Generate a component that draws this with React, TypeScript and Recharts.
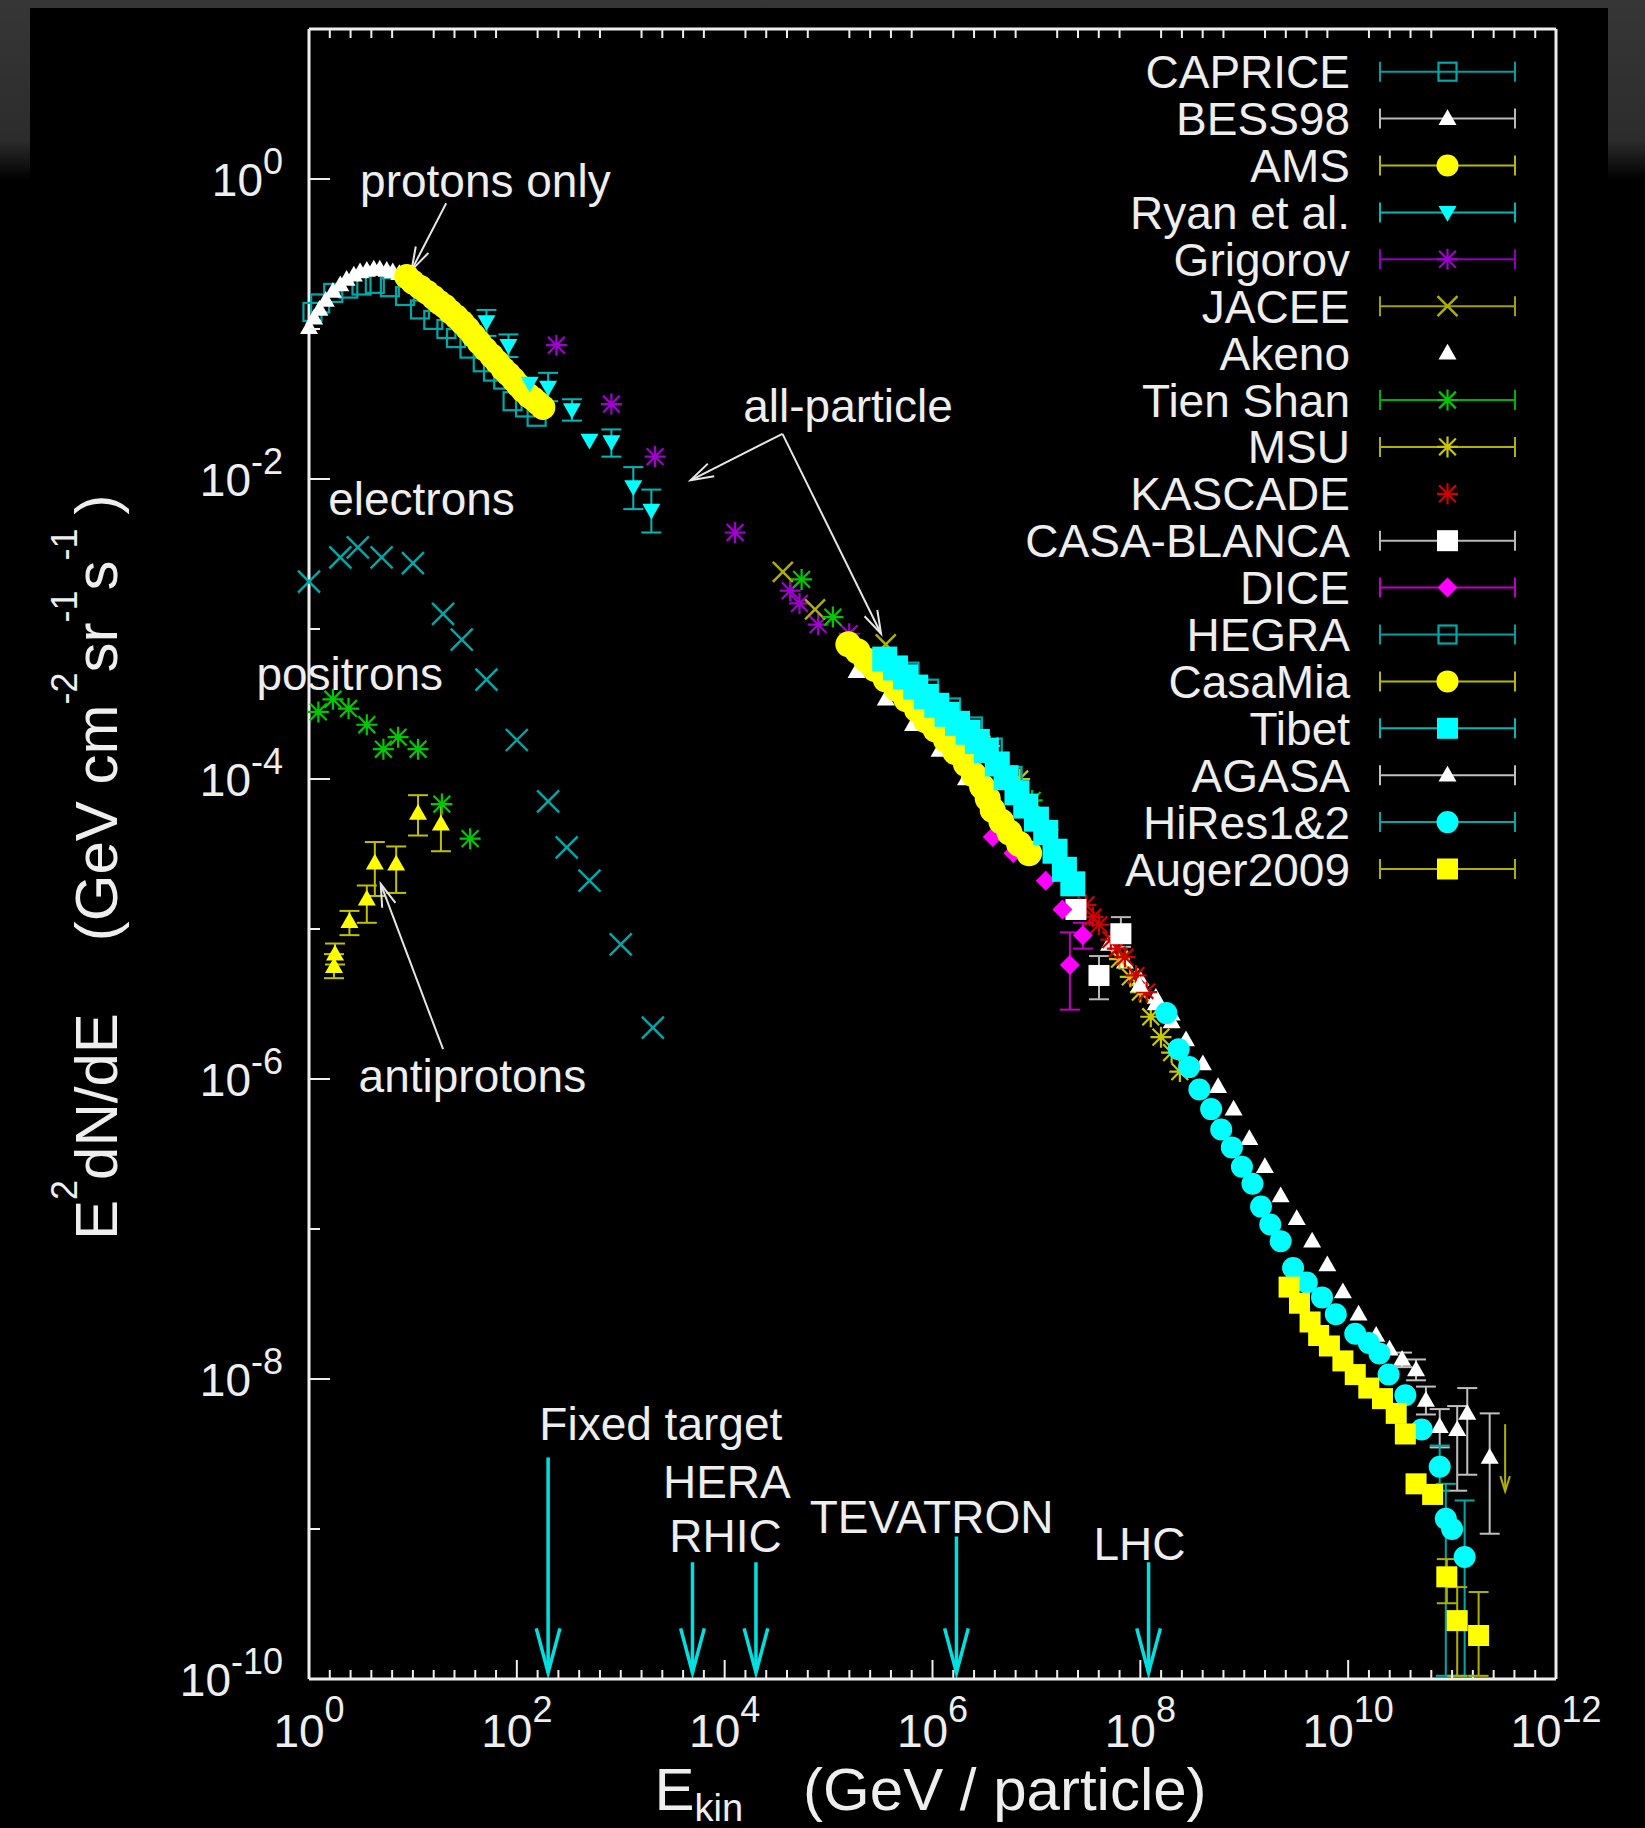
import { ScatterChart, Scatter, XAxis, YAxis, ErrorBar, ReferenceLine, ReferenceDot, Legend } from 'recharts';

const FONT = '"Liberation Sans", Arial, Helvetica, sans-serif';
const INK = '#eeeeee';

type Pt = { x: number; y: number; lo?: number; hi?: number };
type Kind = 'sqOpen' | 'sq' | 'circle' | 'triUp' | 'triDown' | 'star' | 'cross' | 'diamond';

// ---- measurements (E in GeV, E^2 dN/dE) ----
const capriceData: Pt[] = [
  { x: 1.08, y: 0.13 }, { x: 1.28, y: 0.148 }, { x: 1.71, y: 0.174 }, { x: 2.39, y: 0.186 }, { x: 3.2, y: 0.195 },
  { x: 4.3, y: 0.2 }, { x: 6.0, y: 0.19 }, { x: 8.4, y: 0.166 }, { x: 11.7, y: 0.135 }, { x: 15.7, y: 0.115 },
  { x: 21, y: 0.1 }, { x: 26, y: 0.087 }, { x: 35, y: 0.074 }, { x: 47, y: 0.06 }, { x: 59, y: 0.052 },
  { x: 74, y: 0.046 }, { x: 91, y: 0.033 }, { x: 120, y: 0.03 }, { x: 155, y: 0.026 },
];
const bess98Data: Pt[] = [
  { x: 1.0, y: 0.102 }, { x: 1.12, y: 0.118 }, { x: 1.26, y: 0.135 }, { x: 1.45, y: 0.155 }, { x: 1.7, y: 0.178 },
  { x: 2.0, y: 0.197 }, { x: 2.3, y: 0.214 }, { x: 2.7, y: 0.228 }, { x: 3.1, y: 0.24 }, { x: 3.6, y: 0.246 },
  { x: 4.2, y: 0.25 }, { x: 4.8, y: 0.25 }, { x: 5.6, y: 0.246 }, { x: 6.4, y: 0.24 }, { x: 7.4, y: 0.234 }, { x: 8.5, y: 0.226 },
];
const amsData: Pt[] = [
  { x: 8.7, y: 0.224 }, { x: 10, y: 0.205 }, { x: 11.7, y: 0.19 }, { x: 13.6, y: 0.176 }, { x: 15.8, y: 0.162 },
  { x: 18, y: 0.15 }, { x: 20.4, y: 0.141 }, { x: 23, y: 0.13 }, { x: 26.3, y: 0.12 }, { x: 30, y: 0.11 },
  { x: 33.9, y: 0.1 }, { x: 38.5, y: 0.09 }, { x: 43.7, y: 0.081 }, { x: 50, y: 0.073 }, { x: 57.5, y: 0.066 },
  { x: 65, y: 0.06 }, { x: 74, y: 0.054 }, { x: 83, y: 0.05 }, { x: 93, y: 0.046 }, { x: 104, y: 0.042 },
  { x: 115, y: 0.039 }, { x: 130, y: 0.036 }, { x: 145, y: 0.034 }, { x: 160, y: 0.032 }, { x: 178, y: 0.03 },
];
const ryanData: Pt[] = [
  { x: 51, y: 0.112, lo: 0.09, hi: 0.134 }, { x: 83, y: 0.078, lo: 0.065, hi: 0.092 }, { x: 133, y: 0.0436 },
  { x: 200, y: 0.041, lo: 0.033, hi: 0.051 }, { x: 339, y: 0.029, lo: 0.0245, hi: 0.034 }, { x: 500, y: 0.0182 },
  { x: 813, y: 0.0178, lo: 0.0141, hi: 0.0214 }, { x: 1320, y: 0.0089, lo: 0.0063, hi: 0.012 },
  { x: 1970, y: 0.0062, lo: 0.0044, hi: 0.0085 },
];
const grigorovData: Pt[] = [
  { x: 240, y: 0.078 }, { x: 813, y: 0.0316 }, { x: 2140, y: 0.0141 }, { x: 12600, y: 0.0044 },
  { x: 42700, y: 0.0018 }, { x: 52500, y: 0.00148 }, { x: 79400, y: 0.00107 }, { x: 158000, y: 0.00093 },
];
const jaceeData: Pt[] = [{ x: 36300, y: 0.0024 }, { x: 74100, y: 0.00135 }, { x: 355000, y: 0.00079 }];
const akenoData: Pt[] = [
  { x: 1.86e5, y: 5.2e-4 }, { x: 3.55e5, y: 3.4e-4 }, { x: 6.5e5, y: 2.3e-4 }, { x: 1.17e6, y: 1.55e-4 },
  { x: 2.1e6, y: 1.0e-4 }, { x: 3.55e6, y: 6.8e-5 }, { x: 5.0e7, y: 7.9e-6 }, { x: 7.1e7, y: 6.0e-6 },
  { x: 1.0e8, y: 4.6e-6 }, { x: 1.41e8, y: 3.5e-6 }, { x: 2.0e8, y: 2.7e-6 },
];
const tienShanData: Pt[] = [{ x: 55000, y: 0.00214 }, { x: 110000, y: 0.0012 }, { x: 9.1e6, y: 7.2e-5 }];
const msuData: Pt[] = [
  { x: 3.55e6, y: 1.66e-4 }, { x: 6.9e6, y: 1.0e-4 }, { x: 1.29e7, y: 4.6e-5 }, { x: 6.3e7, y: 6.3e-6 },
  { x: 8.0e7, y: 4.8e-6 }, { x: 1.0e8, y: 3.8e-6 }, { x: 1.26e8, y: 2.6e-6 }, { x: 1.58e8, y: 1.9e-6 },
  { x: 2.0e8, y: 1.5e-6 }, { x: 2.4e8, y: 1.12e-6 },
];
const kascadeData: Pt[] = [
  { x: 3.0e7, y: 1.45e-5 }, { x: 3.5e7, y: 1.2e-5 }, { x: 4.0e7, y: 1.07e-5 }, { x: 5.2e7, y: 8.5e-6 },
  { x: 6.0e7, y: 7.4e-6 }, { x: 7.1e7, y: 6.5e-6 }, { x: 9.1e7, y: 4.9e-6 }, { x: 1.15e8, y: 3.8e-6 },
];
const casaBlancaData: Pt[] = [
  { x: 2.4e7, y: 1.35e-5 }, { x: 4.0e7, y: 4.9e-6, lo: 3.4e-6, hi: 6.6e-6 }, { x: 6.5e7, y: 9.3e-6, lo: 7.6e-6, hi: 1.2e-5 },
];
const diceData: Pt[] = [
  { x: 3.8e6, y: 4.1e-5 }, { x: 6.0e6, y: 3.2e-5 }, { x: 1.23e7, y: 2.1e-5 }, { x: 1.78e7, y: 1.35e-5 },
  { x: 2.1e7, y: 5.75e-6, lo: 2.9e-6, hi: 9.5e-6 }, { x: 2.8e7, y: 9.1e-6, lo: 7.4e-6, hi: 1.1e-5 },
];
const hegraData: Pt[] = [
  { x: 6.0e5, y: 5.2e-4 }, { x: 9.3e5, y: 4.0e-4 }, { x: 1.51e6, y: 3.0e-4 }, { x: 2.45e6, y: 2.24e-4 },
  { x: 3.8e6, y: 1.62e-4 }, { x: 5.9e6, y: 1.05e-4 },
];
const casaMiaData: Pt[] = [
  { x: 1.55e5, y: 7.9e-4 }, { x: 1.9e5, y: 7.1e-4 }, { x: 2.3e5, y: 6.2e-4 }, { x: 2.8e5, y: 5.4e-4 },
  { x: 3.55e5, y: 4.6e-4 }, { x: 4.5e5, y: 4.0e-4 }, { x: 5.6e5, y: 3.4e-4 }, { x: 7.1e5, y: 2.9e-4 },
  { x: 8.7e5, y: 2.45e-4 }, { x: 1.07e6, y: 2.14e-4 }, { x: 1.35e6, y: 1.82e-4 }, { x: 1.66e6, y: 1.51e-4 },
  { x: 2.1e6, y: 1.26e-4 }, { x: 2.5e6, y: 1.07e-4 }, { x: 3.0e6, y: 8.9e-5 }, { x: 3.4e6, y: 7.4e-5 },
  { x: 3.8e6, y: 6.2e-5 }, { x: 4.6e6, y: 5.2e-5 }, { x: 5.5e6, y: 4.4e-5 }, { x: 6.8e6, y: 3.7e-5 }, { x: 8.5e6, y: 3.2e-5 },
];
const tibetData: Pt[] = [
  { x: 3.47e5, y: 6.3e-4 }, { x: 4.4e5, y: 5.5e-4 }, { x: 5.5e5, y: 4.8e-4 }, { x: 6.9e5, y: 4.1e-4 },
  { x: 8.7e5, y: 3.55e-4 }, { x: 1.1e6, y: 3.1e-4 }, { x: 1.38e6, y: 2.7e-4 }, { x: 1.74e6, y: 2.35e-4 },
  { x: 2.2e6, y: 2.05e-4 }, { x: 2.7e6, y: 1.78e-4 }, { x: 3.3e6, y: 1.55e-4 }, { x: 4.2e6, y: 1.26e-4 },
  { x: 5.1e6, y: 1.02e-4 }, { x: 6.5e6, y: 8.1e-5 }, { x: 7.9e6, y: 6.6e-5 }, { x: 1.0e7, y: 5.4e-5 },
  { x: 1.23e7, y: 4.4e-5 }, { x: 1.51e7, y: 3.3e-5 }, { x: 1.86e7, y: 2.5e-5 }, { x: 2.24e7, y: 2.0e-5 },
];
const agasaData: Pt[] = [
  { x: 9.8e7, y: 4.2e-6 }, { x: 1.41e8, y: 3.16e-6 }, { x: 2.0e8, y: 2.4e-6 }, { x: 2.75e8, y: 1.82e-6 },
  { x: 4.0e8, y: 1.26e-6 }, { x: 5.6e8, y: 8.9e-7 }, { x: 7.9e8, y: 6.3e-7 }, { x: 1.12e9, y: 4.0e-7 },
  { x: 1.58e9, y: 2.6e-7 }, { x: 2.24e9, y: 1.66e-7 }, { x: 3.2e9, y: 1.17e-7 }, { x: 4.5e9, y: 8.3e-8 },
  { x: 6.3e9, y: 5.75e-8 }, { x: 8.9e9, y: 3.8e-8 }, { x: 1.26e10, y: 2.7e-8 }, { x: 1.86e10, y: 1.95e-8 },
  { x: 2.5e10, y: 1.58e-8 }, { x: 3.3e10, y: 1.35e-8, lo: 1.2e-8, hi: 1.5e-8 },
  { x: 4.5e10, y: 1.15e-8, lo: 9.8e-9, hi: 1.35e-8 }, { x: 5.6e10, y: 7.2e-9, lo: 5.8e-9, hi: 8.9e-9 },
  { x: 7.6e10, y: 4.8e-9, lo: 3.5e-9, hi: 6.3e-9 }, { x: 1.12e11, y: 4.6e-9, lo: 1.8e-9, hi: 6.6e-9 },
  { x: 1.4e11, y: 5.9e-9, lo: 2.3e-9, hi: 8.7e-9 }, { x: 2.3e11, y: 3.0e-9, lo: 9.3e-10, hi: 5.9e-9 },
];
const hiresData: Pt[] = [
  { x: 1.78e8, y: 2.75e-6 }, { x: 2.34e8, y: 1.58e-6 }, { x: 2.95e8, y: 1.2e-6 }, { x: 3.7e8, y: 8.5e-7 },
  { x: 4.8e8, y: 6.3e-7 }, { x: 6.0e8, y: 4.6e-7 }, { x: 7.6e8, y: 3.5e-7 }, { x: 9.5e8, y: 2.6e-7 },
  { x: 1.2e9, y: 2.0e-7 }, { x: 1.45e9, y: 1.41e-7 }, { x: 1.78e9, y: 1.07e-7 }, { x: 2.24e9, y: 8.3e-8 },
  { x: 2.95e9, y: 5.5e-8 }, { x: 4.0e9, y: 4.4e-8 }, { x: 5.6e9, y: 3.5e-8 }, { x: 7.6e9, y: 2.7e-8 },
  { x: 1.17e10, y: 2.0e-8 }, { x: 1.58e10, y: 1.74e-8 }, { x: 2.0e10, y: 1.48e-8 }, { x: 2.45e10, y: 1.07e-8 },
  { x: 3.55e10, y: 7.8e-9 }, { x: 5.1e10, y: 4.6e-9 }, { x: 7.6e10, y: 2.6e-9, lo: 1.8e-9, hi: 3.6e-9 },
  { x: 8.7e10, y: 1.17e-9, lo: 1.05e-10, hi: 2.0e-9 }, { x: 1.0e11, y: 1.0e-9 },
  { x: 1.32e11, y: 6.5e-10, lo: 1.05e-10, hi: 1.55e-9 },
];
const augerData: Pt[] = [
  { x: 2.7e9, y: 4.1e-8 }, { x: 3.4e9, y: 3.2e-8 }, { x: 4.3e9, y: 2.4e-8 }, { x: 5.2e9, y: 1.95e-8 },
  { x: 6.6e9, y: 1.66e-8 }, { x: 8.9e9, y: 1.32e-8 }, { x: 1.17e10, y: 1.07e-8 }, { x: 1.58e10, y: 8.7e-9 },
  { x: 2.14e10, y: 7.4e-9 }, { x: 2.9e10, y: 5.9e-9 }, { x: 3.55e10, y: 4.3e-9 }, { x: 4.5e10, y: 2.0e-9 },
  { x: 6.5e10, y: 1.7e-9 }, { x: 8.9e10, y: 4.8e-10, lo: 3.2e-10, hi: 6.3e-10 },
  { x: 1.12e11, y: 2.45e-10, lo: 1.05e-10, hi: 4.1e-10 }, { x: 1.8e11, y: 1.95e-10, lo: 1.05e-10, hi: 3.8e-10 },
];
const electronData: Pt[] = [
  { x: 1.0, y: 2.07e-3 }, { x: 2.0, y: 3.0e-3 }, { x: 2.95, y: 3.5e-3 }, { x: 5.0, y: 3.0e-3 }, { x: 10, y: 2.75e-3 },
  { x: 19.5, y: 1.26e-3 }, { x: 29.5, y: 8.5e-4 }, { x: 51, y: 4.6e-4 }, { x: 100, y: 1.82e-4 }, { x: 200, y: 7.1e-5 },
  { x: 302, y: 3.5e-5 }, { x: 500, y: 2.1e-5 }, { x: 1000, y: 7.9e-6 }, { x: 2040, y: 2.2e-6 },
];
const positronData: Pt[] = [
  { x: 1.23, y: 2.8e-4 }, { x: 1.7, y: 3.4e-4 }, { x: 2.4, y: 2.95e-4 }, { x: 3.6, y: 2.3e-4 }, { x: 5.2, y: 1.58e-4 },
  { x: 7.2, y: 1.9e-4 }, { x: 11.2, y: 1.58e-4 }, { x: 19, y: 6.8e-5 }, { x: 35.5, y: 4.0e-5 },
];
const antiprotonData: Pt[] = [
  { x: 1.74, y: 5.6e-6, lo: 4.7e-6, hi: 6.8e-6 }, { x: 1.78, y: 6.8e-6, lo: 5.8e-6, hi: 8.0e-6 },
  { x: 2.45, y: 1.12e-5, lo: 9.1e-6, hi: 1.32e-5 }, { x: 3.6, y: 1.58e-5, lo: 1.1e-5, hi: 1.95e-5 },
  { x: 4.3, y: 2.75e-5, lo: 1.66e-5, hi: 3.8e-5 }, { x: 6.9, y: 2.7e-5, lo: 1.74e-5, hi: 3.55e-5 },
  { x: 11.2, y: 5.9e-5, lo: 4.2e-5, hi: 7.8e-5 }, { x: 18.6, y: 5.0e-5, lo: 3.3e-5, hi: 6.8e-5 },
];

// ---- annotations ----
const notes = [
  { text: 'protons only', x: 3.1, y: 0.76, anchor: 'start' },
  { text: 'all-particle', x: 1.51e4, y: 0.024, anchor: 'start' },
  { text: 'electrons', x: 1.53, y: 5.75e-3, anchor: 'start' },
  { text: 'positrons', x: 19.5, y: 3.9e-4, anchor: 'end' },
  { text: 'antiprotons', x: 3.0, y: 8.2e-7, anchor: 'start' },
  { text: 'Fixed target', x: 2430, y: 3.9e-9, anchor: 'middle' },
  { text: 'HERA', x: 1.05e4, y: 1.6e-9, anchor: 'middle' },
  { text: 'RHIC', x: 1.02e4, y: 7.0e-10, anchor: 'middle' },
  { text: 'TEVATRON', x: 9.8e5, y: 9.4e-10, anchor: 'middle' },
  { text: 'LHC', x: 9.8e7, y: 6.2e-10, anchor: 'middle' },
];
const pointers = [
  { from: { x: 20.9, y: 0.69 }, to: { x: 9.7, y: 0.247 } },
  { from: { x: 3.6e4, y: 0.02 }, to: { x: 4700, y: 0.0098 } },
  { from: { x: 3.6e4, y: 0.02 }, to: { x: 3.2e5, y: 9.3e-4 } },
  { from: { x: 19.5, y: 1.58e-6 }, to: { x: 4.9, y: 2.0e-5 } },
];
const beamEnergies = [200, 4900, 2.0e4, 1.7e6, 1.2e8];
const beamTops = [3.0e-9, 6.0e-10, 6.0e-10, 8.9e-10, 6.0e-10];
const beamFloor = 1.1e-10;
const upperLimit = { x: 3.24e11, from: 5.0e-9, to: 1.78e-9 };

// ---- axes ----
const xDecades = [1, 1e1, 1e2, 1e3, 1e4, 1e5, 1e6, 1e7, 1e8, 1e9, 1e10, 1e11, 1e12];
const yTicks = [1e-10, 1e-9, 1e-8, 1e-7, 1e-6, 1e-5, 1e-4, 1e-3, 1e-2, 1e-1, 1, 10];
// minor x tics every 0.2 decade (the decades themselves come from the axis)
const xMinor = Array.from({ length: 61 }, (_, k) => k)
  .filter((k) => k % 5 !== 0)
  .map((k) => Math.pow(10, k / 5));
// y values giving a 9px tic at the bottom / top frame
const minorBottom: [number, number] = [1e-10, 1.148e-10];
const minorTop: [number, number] = [10, 8.71];

const expOf = (v: number) => Math.round(Math.log10(v));
const isMajor = (v: number) => {
  const lg = Math.log10(v);
  const n = Math.round(lg);
  return Math.abs(lg - n) < 1e-6 && n % 2 === 0;
};

type Style = { name: string; data: Pt[]; kind: Kind; color: string; line: string; size: number; plotSize?: number; keyBar?: boolean };

const series: Style[] = [
  { name: 'CAPRICE', data: capriceData, kind: 'sqOpen', color: '#00a8a8', line: '#00a0a0', size: 20, keyBar: true },
  { name: 'BESS98', data: bess98Data, kind: 'triUp', color: '#ffffff', line: '#b8b8b8', size: 18, keyBar: true },
  { name: 'AMS', data: amsData, kind: 'circle', color: '#ffff00', line: '#b8b800', size: 22, plotSize: 25, keyBar: true },
  { name: 'Ryan et al.', data: ryanData, kind: 'triDown', color: '#00ffff', line: '#00b8b8', size: 18, keyBar: true },
  { name: 'Grigorov', data: grigorovData, kind: 'star', color: '#a000d0', line: '#9000b8', size: 21, keyBar: true },
  { name: 'JACEE', data: jaceeData, kind: 'cross', color: '#b0b000', line: '#a0a000', size: 20, keyBar: true },
  { name: 'Akeno', data: akenoData, kind: 'triUp', color: '#ffffff', line: '#b8b8b8', size: 18, keyBar: false },
  { name: 'Tien Shan', data: tienShanData, kind: 'star', color: '#00c800', line: '#00b000', size: 21, keyBar: true },
  { name: 'MSU', data: msuData, kind: 'star', color: '#c8c800', line: '#b0b000', size: 21, keyBar: true },
  { name: 'KASCADE', data: kascadeData, kind: 'star', color: '#d00000', line: '#c00000', size: 21, keyBar: false },
  { name: 'CASA-BLANCA', data: casaBlancaData, kind: 'sq', color: '#ffffff', line: '#b8b8b8', size: 21, keyBar: true },
  { name: 'DICE', data: diceData, kind: 'diamond', color: '#ff00ff', line: '#c000c0', size: 20, keyBar: true },
  { name: 'HEGRA', data: hegraData, kind: 'sqOpen', color: '#00a8a8', line: '#00a0a0', size: 20, keyBar: true },
  { name: 'CasaMia', data: casaMiaData, kind: 'circle', color: '#ffff00', line: '#b8b800', size: 22, plotSize: 26, keyBar: true },
  { name: 'Tibet', data: tibetData, kind: 'sq', color: '#00ffff', line: '#00b8b8', size: 21, plotSize: 25, keyBar: true },
  { name: 'AGASA', data: agasaData, kind: 'triUp', color: '#ffffff', line: '#c0c0c0', size: 18, keyBar: true },
  { name: 'HiRes1&2', data: hiresData, kind: 'circle', color: '#00ffff', line: '#00a8a8', size: 22, keyBar: true },
  { name: 'Auger2009', data: augerData, kind: 'sq', color: '#ffff00', line: '#b0b000', size: 21, keyBar: true },
];

// unlabelled particle species
const extras: Style[] = [
  { name: 'electrons', data: electronData, kind: 'cross', color: '#00a8a8', line: '#00a0a0', size: 22 },
  { name: 'positrons', data: positronData, kind: 'star', color: '#00c800', line: '#00b000', size: 21 },
  { name: 'antiprotons', data: antiprotonData, kind: 'triUp', color: '#ffff00', line: '#c0c000', size: 18 },
];

const toRows = (pts: Pt[]) =>
  pts.map((p) => ({
    x: p.x,
    y: p.y,
    err: p.lo !== undefined && p.hi !== undefined ? [p.y - p.lo, p.hi - p.y] : undefined,
  }));

const Marker = ({ kind, cx, cy, color, size }: { kind: Kind; cx: number; cy: number; color: string; size: number }) => {
  const h = size / 2;
  switch (kind) {
    case 'sqOpen':
      return <rect x={cx - h + 1} y={cy - h + 1} width={size - 2} height={size - 2} fill="none" stroke={color} strokeWidth={2.2} />;
    case 'sq':
      return <rect x={cx - h} y={cy - h} width={size} height={size} fill={color} />;
    case 'circle':
      return <circle cx={cx} cy={cy} r={h} fill={color} />;
    case 'triUp':
      return <polygon points={`${cx},${cy - h * 1.05} ${cx - h},${cy + h * 0.7} ${cx + h},${cy + h * 0.7}`} fill={color} />;
    case 'triDown':
      return <polygon points={`${cx},${cy + h * 1.05} ${cx - h},${cy - h * 0.7} ${cx + h},${cy - h * 0.7}`} fill={color} />;
    case 'diamond':
      return <polygon points={`${cx},${cy - h} ${cx + h},${cy} ${cx},${cy + h} ${cx - h},${cy}`} fill={color} />;
    case 'cross':
      return <path d={`M${cx - h},${cy - h}L${cx + h},${cy + h}M${cx - h},${cy + h}L${cx + h},${cy - h}`} stroke={color} strokeWidth={2.4} />;
    default: {
      const d = h * 0.8;
      return (
        <path
          d={`M${cx - h},${cy}L${cx + h},${cy}M${cx},${cy - h}L${cx},${cy + h}M${cx - d},${cy - d}L${cx + d},${cy + d}M${cx - d},${cy + d}L${cx + d},${cy - d}`}
          stroke={color}
          strokeWidth={2.2}
        />
      );
    }
  }
};

// open "V" arrow head like gnuplot
const arrowShape = (color: string, width: number, head: number, spread: number) => (p: any) => {
  const { x1, y1, x2, y2 } = p;
  const a = Math.atan2(y2 - y1, x2 - x1);
  const l = `${x2 - head * Math.cos(a - spread)},${y2 - head * Math.sin(a - spread)}`;
  const r = `${x2 - head * Math.cos(a + spread)},${y2 - head * Math.sin(a + spread)}`;
  return (
    <g>
      <line x1={x1} y1={y1} x2={x2} y2={y2} stroke={color} strokeWidth={width} />
      <polyline points={`${l} ${x2},${y2} ${r}`} fill="none" stroke={color} strokeWidth={width} />
    </g>
  );
};
const ticShape = (p: any) => <line x1={p.x1} y1={p.y1} x2={p.x2} y2={p.y2} stroke={INK} strokeWidth={2} />;

const BottomTick = ({ x, y, payload }: any) => {
  const major = isMajor(payload.value);
  return (
    <g>
      <line x1={x} y1={y} x2={x} y2={y - (major ? 19 : 9)} stroke={INK} strokeWidth={2} />
      {major && (
        <text x={x} y={y + 68} textAnchor="middle" fill={INK} fontFamily={FONT} fontSize={46}>
          10<tspan dy={-25} fontSize={36}>{expOf(payload.value)}</tspan>
        </text>
      )}
    </g>
  );
};
const TopTick = ({ x, y, payload }: any) => (
  <line x1={x} y1={y} x2={x} y2={y + (isMajor(payload.value) ? 19 : 9)} stroke={INK} strokeWidth={2} />
);
const LeftTick = ({ x, y, payload }: any) => {
  const major = isMajor(payload.value);
  return (
    <g>
      <line x1={x} y1={y} x2={x + (major ? 21 : 11)} y2={y} stroke={INK} strokeWidth={2} />
      {major && (
        <text x={x - 26} y={y + 17} textAnchor="end" fill={INK} fontFamily={FONT} fontSize={46}>
          10<tspan dy={-22} fontSize={36}>{expOf(payload.value)}</tspan>
        </text>
      )}
    </g>
  );
};
const RightTick = ({ x, y, payload }: any) => (
  <line x1={x} y1={y} x2={x - (isMajor(payload.value) ? 21 : 11)} y2={y} stroke={INK} strokeWidth={2} />
);

const XTitle = ({ viewBox }: any) => {
  const vb = viewBox && viewBox.width ? viewBox : { x: 309, y: 1679, width: 1247, height: 1 };
  const x0 = vb.x + vb.width / 2 - 278;
  return (
    <text x={x0} y={1810} fill={INK} fontFamily={FONT} fontSize={60}>
      E<tspan dy={11} fontSize={38}>kin</tspan>
      <tspan dy={-11} dx={60}>(GeV / particle)</tspan>
    </text>
  );
};
const YTitle = ({ viewBox }: any) => {
  const vb = viewBox && viewBox.height ? viewBox : { x: 308, y: 29, width: 1, height: 1650 };
  const x0 = 117;
  const y0 = vb.y + vb.height / 2 + 386;
  return (
    <text x={x0} y={y0} transform={`rotate(-90 ${x0} ${y0})`} fill={INK} fontFamily={FONT} fontSize={60}>
      E<tspan dy={-40} fontSize={36}>2</tspan>
      <tspan dy={40}>dN/dE</tspan>
      <tspan dx={72}>(GeV cm</tspan>
      <tspan dy={-40} fontSize={36}>-2</tspan>
      <tspan dy={40}>sr</tspan>
      <tspan dy={-40} fontSize={36}>-1</tspan>
      <tspan dy={40}>s</tspan>
      <tspan dy={-40} fontSize={36}>-1</tspan>
      <tspan dy={40} dx={14}>)</tspan>
    </text>
  );
};

const KeyBox = () => (
  <svg width={560} height={880}>
    {series.map((s, i) => {
      const cy = 31.7 + i * 46.9;
      return (
        <g key={s.name}>
          <text x={350} y={cy + 16.5} textAnchor="end" fill={INK} fontFamily={FONT} fontSize={46}>
            {s.name}
          </text>
          {s.keyBar && (
            <path d={`M380,${cy}H515M380,${cy - 10}V${cy + 10}M515,${cy - 10}V${cy + 10}`} stroke={s.line} strokeWidth={2} fill="none" />
          )}
          <Marker kind={s.kind} cx={447.5} cy={cy} color={s.color} size={s.size} />
        </g>
      );
    })}
  </svg>
);

const renderSeries = (s: Style) => (
  <Scatter
    key={s.name}
    name={s.name}
    data={toRows(s.data)}
    isAnimationActive={false}
    shape={(p: any) => <Marker kind={s.kind} cx={p.cx} cy={p.cy} color={s.color} size={s.plotSize ?? s.size} />}
  >
    {s.data.some((p) => p.lo !== undefined) && (
      <ErrorBar dataKey="err" direction="y" width={10} stroke={s.line} strokeWidth={2} isAnimationActive={false} />
    )}
  </Scatter>
);

const axisCommon = {
  type: 'number' as const,
  scale: 'log' as const,
  interval: 0 as const,
  tickSize: 0,
  tickMargin: 0,
  tickLine: false,
  axisLine: { stroke: INK, strokeWidth: 3 },
};

export default function App() {
  return (
    <div
      style={{
        position: 'absolute',
        left: 0,
        top: 0,
        width: 1645,
        height: 1828,
        overflow: 'hidden',
        background: 'linear-gradient(180deg, #363636 0px, #2c2c2c 140px, #000 180px)',
      }}
    >
      <div style={{ position: 'absolute', left: 30, top: 8, width: 1578, height: 1820, background: '#000' }} />
      <div style={{ position: 'absolute', left: 0, top: 0 }}>
        <ScatterChart width={1645} height={1828} margin={{ top: 28, right: 88, bottom: 148, left: 308 }}>
          <XAxis
            {...axisCommon}
            xAxisId={0}
            dataKey="x"
            domain={[1, 1e12]}
            ticks={xDecades}
            height={1}
            tick={(p: any) => <BottomTick {...p} />}
            label={<XTitle />}
          />
          <XAxis
            {...axisCommon}
            xAxisId="top"
            orientation="top"
            dataKey="x"
            domain={[1, 1e12]}
            ticks={xDecades}
            height={1}
            tick={(p: any) => <TopTick {...p} />}
          />
          <YAxis
            {...axisCommon}
            yAxisId={0}
            dataKey="y"
            domain={[1e-10, 10]}
            ticks={yTicks}
            width={1}
            tick={(p: any) => <LeftTick {...p} />}
            label={<YTitle />}
          />
          <YAxis
            {...axisCommon}
            yAxisId="right"
            orientation="right"
            dataKey="y"
            domain={[1e-10, 10]}
            ticks={yTicks}
            width={1}
            tick={(p: any) => <RightTick {...p} />}
          />

          {xMinor.map((v) => (
            <ReferenceLine
              key={`mb${v}`}
              segment={[{ x: v, y: minorBottom[0] }, { x: v, y: minorBottom[1] }]}
              ifOverflow="visible"
              shape={ticShape}
            />
          ))}
          {xMinor.map((v) => (
            <ReferenceLine
              key={`mt${v}`}
              segment={[{ x: v, y: minorTop[0] }, { x: v, y: minorTop[1] }]}
              ifOverflow="visible"
              shape={ticShape}
            />
          ))}

          {extras.map(renderSeries)}
          {series.map(renderSeries)}

          {pointers.map((a, i) => (
            <ReferenceLine key={`ptr${i}`} segment={[a.from, a.to]} ifOverflow="visible" shape={arrowShape('#e6e6e6', 2, 24, 0.3)} />
          ))}
          {beamEnergies.map((e, i) => (
            <ReferenceLine
              key={`beam${i}`}
              segment={[{ x: e, y: beamTops[i] }, { x: e, y: beamFloor }]}
              ifOverflow="visible"
              shape={arrowShape('#00e0e0', 3.5, 46, 0.26)}
            />
          ))}
          <ReferenceLine
            segment={[{ x: upperLimit.x, y: upperLimit.from }, { x: upperLimit.x, y: upperLimit.to }]}
            ifOverflow="visible"
            shape={arrowShape('#b0b000', 2, 16, 0.3)}
          />
          {notes.map((n) => (
            <ReferenceDot
              key={n.text}
              x={n.x}
              y={n.y}
              r={0}
              ifOverflow="visible"
              shape={(p: any) => (
                <text x={p.cx} y={p.cy} textAnchor={n.anchor as any} fill={INK} fontFamily={FONT} fontSize={46}>
                  {n.text}
                </text>
              )}
            />
          ))}

          <Legend
            layout="vertical"
            align="center"
            verticalAlign="middle"
            wrapperStyle={{ left: 1000, top: 40, width: 560, height: 880 }}
            content={() => <KeyBox />}
          />
        </ScatterChart>
      </div>
    </div>
  );
}
